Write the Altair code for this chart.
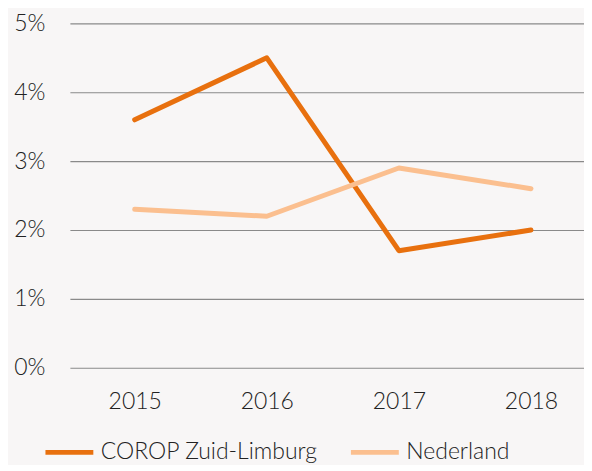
import altair as alt
import pandas as pd

years = ["2015", "2016", "2017", "2018"]
corop = [3.6, 4.5, 1.7, 2.0]
nederland = [2.3, 2.2, 2.9, 2.6]
series_names = ["COROP Zuid-Limburg", "Nederland"]
colors = ["#e8700e", "#fbbf8f"]

rows = []
for y, v in zip(years, corop):
    rows.append({"jaar": y, "waarde": v / 100, "reeks": series_names[0]})
for y, v in zip(years, nederland):
    rows.append({"jaar": y, "waarde": v / 100, "reeks": series_names[1]})
df = pd.DataFrame(rows)

FONT = "Lato"
chart = alt.Chart(df).mark_line(strokeWidth=5, strokeJoin="round", strokeCap="round").encode(
    x=alt.X("jaar:O", title=None, scale=alt.Scale(type="point", padding=0.446, align=0.55),
            axis=alt.Axis(labelAngle=0, domain=False, ticks=False, grid=False,
                          labelPadding=23, labelFontSize=23, labelFont=FONT,
                          labelFontWeight=300, labelColor="#222")),
    y=alt.Y("waarde:Q", title=None, scale=alt.Scale(domain=[0, 0.05], nice=False),
            axis=alt.Axis(format=".0%", values=[0, 0.01, 0.02, 0.03, 0.04, 0.05],
                          domain=False, ticks=False, gridColor="#8a8a8a", gridWidth=1.2,
                          labelPadding=25, labelFontSize=23, labelFont=FONT,
                          labelFontWeight=300, labelColor="#222")),
    color=alt.Color("reeks:N", scale=alt.Scale(domain=series_names, range=colors),
                    legend=alt.Legend(title=None, orient="none", legendX=-27, legendY=403,
                                      direction="horizontal",
                                      symbolType="stroke", symbolStrokeWidth=5,
                                      symbolSize=2300, labelFontSize=23, labelFont=FONT,
                                      labelFontWeight=300, labelColor="#222", labelLimit=0,
                                      columnPadding=22, labelOffset=5)),
).properties(
    width=515, height=345, background="#f8f6f6",
    padding={"left": 5, "top": 4, "right": 0, "bottom": 0}
).configure_view(stroke=None)

chart.save("out.html", embed_options={"renderer": "svg", "actions": False})
